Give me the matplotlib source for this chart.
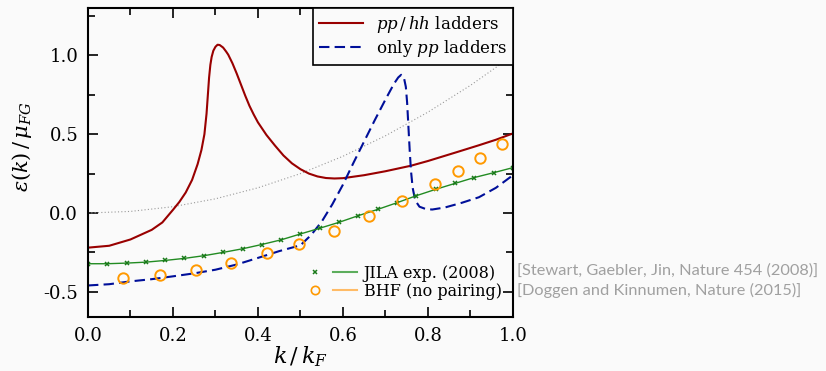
import numpy as np
import matplotlib
matplotlib.use("Agg")
import matplotlib.pyplot as plt
from matplotlib.ticker import MultipleLocator
from matplotlib.legend_handler import HandlerTuple
from matplotlib.lines import Line2D

plt.rcParams['font.family'] = ['DejaVu Serif']
plt.rcParams['mathtext.fontset'] = 'dejavuserif'
plt.rcParams['axes.unicode_minus'] = False

# pp/hh ladders
k_pphh = [0.0, 0.05, 0.1, 0.15, 0.175, 0.2, 0.215, 0.23, 0.245, 0.258, 0.267, 0.274,
          0.279, 0.285, 0.288, 0.291, 0.295, 0.3, 0.305, 0.31, 0.318, 0.325, 0.33, 0.34,
          0.35, 0.36, 0.37, 0.38, 0.39, 0.4, 0.42, 0.44, 0.46, 0.48, 0.5, 0.52, 0.54,
          0.56, 0.58, 0.6, 0.65, 0.7, 0.76, 0.8, 0.87, 0.92, 0.96, 1.0]
e_pphh = [-0.22, -0.208, -0.168, -0.107, -0.06, 0.02, 0.07, 0.13, 0.21, 0.31, 0.40, 0.5,
          0.63, 0.86, 0.94, 0.99, 1.03, 1.055, 1.068, 1.066, 1.05, 1.025, 1.005, 0.95,
          0.885, 0.815, 0.745, 0.68, 0.625, 0.575, 0.495, 0.428, 0.365, 0.315, 0.278,
          0.25, 0.232, 0.222, 0.219, 0.221, 0.24, 0.265, 0.30, 0.33, 0.388, 0.43, 0.465,
          0.505]

# only pp ladders
k_pp = [0.0, 0.05, 0.1, 0.15, 0.2, 0.25, 0.3, 0.35, 0.4, 0.45, 0.5, 0.525, 0.55, 0.575,
        0.6, 0.625, 0.65, 0.675, 0.7, 0.72, 0.73, 0.737, 0.743, 0.748, 0.751, 0.754,
        0.757, 0.76, 0.764, 0.77, 0.78, 0.795, 0.81, 0.84, 0.88, 0.92, 0.96, 1.0]
e_pp = [-0.46, -0.452, -0.434, -0.42, -0.402, -0.383, -0.36, -0.327, -0.285, -0.242,
        -0.205, -0.14, -0.055, 0.055, 0.18, 0.32, 0.455, 0.59, 0.72, 0.82, 0.86, 0.877,
        0.865, 0.8, 0.7, 0.55, 0.4, 0.27, 0.16, 0.08, 0.04, 0.025, 0.022, 0.035, 0.065,
        0.10, 0.16, 0.24]

# free gas (dotted)
k_free = [0.0, 0.1, 0.2, 0.3, 0.4, 0.5, 0.6, 0.7, 0.8, 0.9, 1.0]
e_free = [0.0, 0.01, 0.04, 0.09, 0.16, 0.25, 0.36, 0.49, 0.64, 0.81, 1.0]

# JILA exp. (2008)
k_jila = [0.0, 0.045, 0.091, 0.136, 0.182, 0.227, 0.273, 0.318, 0.364, 0.409, 0.455,
          0.5, 0.545, 0.591, 0.636, 0.682, 0.727, 0.773, 0.818, 0.864, 0.909, 0.955, 1.0]
e_jila = [-0.322, -0.322, -0.318, -0.312, -0.301, -0.288, -0.271, -0.25, -0.227, -0.2,
          -0.17, -0.133, -0.097, -0.059, -0.017, 0.023, 0.065, 0.11, 0.15, 0.188,
          0.225, 0.256, 0.288]

# BHF (no pairing)
k_bhf = [0.082, 0.17, 0.254, 0.336, 0.421, 0.497, 0.578, 0.662, 0.74, 0.816, 0.871,
         0.923, 0.974]
e_bhf = [-0.41, -0.392, -0.359, -0.315, -0.256, -0.197, -0.114, -0.019, 0.075, 0.182,
         0.265, 0.352, 0.436]

bg = '#fafafa'
fig = plt.figure(figsize=(8.26, 3.71), dpi=100, facecolor=bg)
ax = fig.add_axes([0.1065, 0.1456, 0.5145, 0.8324], facecolor=bg)

ax.plot(k_free, e_free, color='#999999', lw=0.8, ls=(0, (1, 2)))
l1, = ax.plot(k_pphh, e_pphh, color='#990000', lw=1.5, label='$pp\\,/\\,hh$ ladders')
l2, = ax.plot(k_pp, e_pp, color='#000f99', lw=1.5, ls=(0, (5, 2.5)), label='only $pp$ ladders')
ax.plot(k_jila, e_jila, color='#228b22', lw=1.0)
ax.plot(k_jila, e_jila, ls='none', marker='x', ms=3.2, mew=1.1, color='#1a7a1a')
ax.plot(k_bhf, e_bhf, ls='none', marker='o', ms=7.5, mfc='none', mec='#ff9900', mew=1.4)

ax.set_xlim(0, 1)
ax.set_ylim(-0.66, 1.30)
ax.xaxis.set_major_locator(MultipleLocator(0.2))
ax.xaxis.set_minor_locator(MultipleLocator(0.1))
ax.yaxis.set_major_locator(MultipleLocator(0.5))
ax.yaxis.set_minor_locator(MultipleLocator(0.25))
ax.tick_params(which='both', direction='in', top=True, right=True, labelsize=13, width=1.2)
ax.tick_params(which='major', length=7, pad=7)
ax.tick_params(which='minor', length=5)
for s in ax.spines.values():
    s.set_linewidth(1.5)
ax.set_xlabel('$k\\,/\\,k_F$', fontsize=16, labelpad=0)
ax.set_ylabel('$\\varepsilon(k)\\,/\\,\\mu_{FG}$', fontsize=15)
ax.yaxis.set_label_coords(-0.128, 0.55)

leg1 = ax.legend(handles=[l1, l2], loc='upper right', fontsize=12, frameon=True,
                 fancybox=False, edgecolor='black', framealpha=1, facecolor=bg,
                 borderaxespad=0, handlelength=2.6, borderpad=0.35, labelspacing=0.2)
leg1.get_frame().set_linewidth(1.2)
ax.add_artist(leg1)

mk_j = Line2D([], [], ls='none', marker='x', ms=3.2, mew=1.1, color='#1a7a1a')
ln_j = Line2D([], [], color='#5cad5c', lw=1.5)
mk_b = Line2D([], [], ls='none', marker='o', ms=6, mfc='none', mec='#ff9900', mew=1.2)
ln_b = Line2D([], [], color='#ffbb66', lw=1.5)
ax.legend(handles=[(mk_j, ln_j), (mk_b, ln_b)],
          labels=['JILA exp. (2008)', 'BHF (no pairing)'],
          handler_map={tuple: HandlerTuple(ndivide=None, pad=0.3)},
          loc='lower right', fontsize=11.5, frameon=False, handlelength=3.4,
          borderaxespad=0.3, labelspacing=0.05, handletextpad=0.4,
          bbox_to_anchor=(1.0, 0.02))

fig.text(0.626, 0.272, '[Stewart, Gaebler, Jin, Nature 454 (2008)]', color='#a0a0a0',
         fontsize=11.8, family='Lato', va='center')
fig.text(0.626, 0.218, '[Doggen and Kinnumen, Nature (2015)]', color='#a0a0a0',
         fontsize=11.8, family='Lato', va='center')

fig.savefig('out.png', dpi=100, facecolor=bg)
